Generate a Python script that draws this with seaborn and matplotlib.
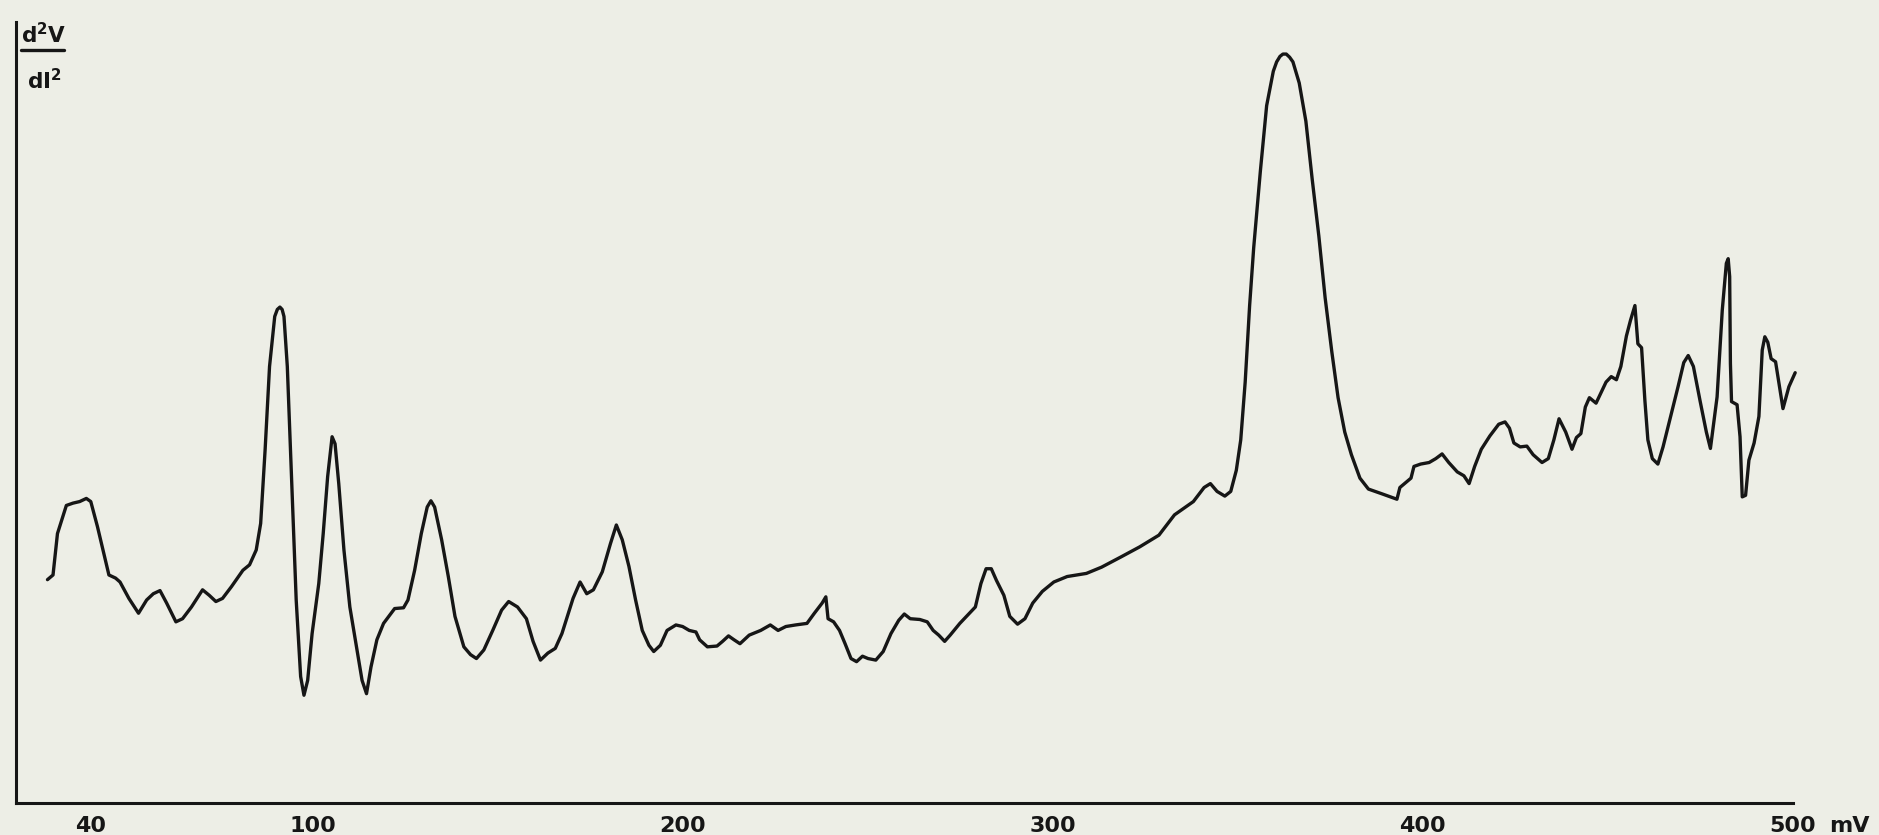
import matplotlib
matplotlib.use("Agg")
import matplotlib.pyplot as plt
from matplotlib.lines import Line2D
import numpy as np
import pandas as pd
import seaborn as sns

# Bias voltage (mV) and second-derivative signal d2V/dI2 (arbitrary units, 0-100)
bias_mv = [
    28.4, 29.9, 31.1, 33.5, 35.3, 37.1, 38.9, 40.1, 41.9, 45.0, 46.8, 48.0, 50.4, 53.0,
    55.2, 57.0, 58.8, 60.6, 63.1, 64.9, 67.3, 70.3, 72.1, 73.9, 75.7, 78.1, 81.2, 83.0,
    84.8, 86.0, 87.2, 88.4, 89.8, 90.5, 91.2, 91.8, 92.3, 93.2, 94.4, 95.6, 96.8, 97.7,
    98.7, 99.9,
    101.7, 102.9, 104.1, 105.3, 106.1, 107.1, 108.5, 110.1, 111.9, 113.4, 114.6, 115.8,
    117.4, 119.2, 122.2, 124.6, 125.8, 127.6, 129.4, 131.0, 132.0, 133.0, 134.9, 136.7,
    138.5, 140.9, 142.7, 144.3, 146.3, 148.7, 151.1, 153.0, 155.4, 157.8, 159.6, 161.6,
    163.6, 165.6, 167.4, 170.4, 172.3, 174.1, 175.9, 178.3, 180.5, 182.1, 183.7, 185.5,
    187.3, 189.1, 190.9, 192.2, 194.0, 195.8, 198.2, 200.0, 201.8, 203.6,
    204.6, 206.7, 209.3, 210.8, 212.4, 213.9, 215.5, 218.0, 221.1, 223.7, 225.8, 227.9,
    230.5, 233.6, 235.6, 237.7, 238.7, 239.3, 240.8, 242.4, 243.9, 245.5, 247.0, 248.6,
    250.1, 252.2, 254.2, 256.3, 258.4, 259.9, 261.5, 264.1, 266.1, 267.7, 269.2, 270.8,
    272.3, 274.9, 277.5, 279.1, 280.6, 282.0, 283.4, 284.8, 286.8, 288.4, 290.5, 292.5,
    294.6, 297.2, 300.3, 303.9, 309.1, 313.2, 318.4, 323.5, 328.7, 332.9, 338.0,
    340.9, 342.6, 344.4, 346.5, 348.1, 349.6, 350.8, 352.0, 353.2, 354.3, 356.1, 357.8,
    359.6, 360.5, 361.4, 362.2, 363.1, 364.0, 364.9, 366.6, 368.4, 370.1, 371.9, 373.6,
    375.4, 377.1, 378.9,
    380.7, 383.0, 385.3, 388.9, 391.2, 393.0, 393.8, 395.3, 396.8, 397.6, 399.4, 401.7,
    403.5, 405.2, 407.0, 409.3, 411.1, 412.5, 414.0, 415.8, 418.1, 420.5, 422.2, 423.4,
    424.6, 426.3, 428.1, 429.8, 432.2, 433.9, 435.4, 436.8, 438.6, 440.3, 441.5, 442.7,
    443.9, 445.0, 446.8, 448.0, 449.5, 450.9, 452.3, 453.5, 455.0, 456.1, 457.3, 458.1,
    459.1, 460.0, 460.8, 462.0, 463.5, 464.9, 466.7, 469.0, 470.5, 471.7, 473.1, 474.9,
    476.6, 477.7, 479.5, 480.9, 482.0, 482.5, 482.9, 483.1, 483.4, 484.9, 485.7, 486.3,
    487.2, 488.1, 489.5, 490.8, 491.7, 492.4, 493.2, 494.1, 495.3, 497.3, 498.9, 500.6,
]
d2v_signal = [
    28.6, 29.2, 34.5, 38.1, 38.4, 38.6, 39.0, 38.6, 35.4, 29.2, 28.8, 28.3, 26.2, 24.3,
    26.0, 26.8, 27.2, 25.6, 23.2, 23.6, 25.1, 27.3, 26.6, 25.8, 26.2, 27.7, 29.8, 30.5,
    32.4, 35.8, 45.2, 55.9, 62.3, 63.2, 63.5, 63.2, 62.3, 55.9, 40.9, 26.0, 16.2, 13.8,
    15.7, 21.7,
    28.1, 34.5, 41.8, 46.9, 46.0, 40.9, 32.4, 25.1, 20.0, 15.7, 14.0, 17.4,
    20.9, 23.0, 24.9, 25.0, 26.0, 29.8, 34.5, 37.9, 38.7, 37.9, 33.7, 29.0,
    23.9, 20.0, 19.0, 18.5, 19.6, 22.1, 24.7, 25.8, 25.1, 23.6, 20.7, 18.3,
    19.2, 19.8, 21.7, 26.2, 28.3, 26.8, 27.3, 29.6, 33.2, 35.6, 33.7, 30.3,
    26.0, 22.1, 20.2, 19.4, 20.2, 22.1, 22.8, 22.6, 22.1, 21.9,
    20.9, 20.0, 20.1, 20.7, 21.4, 20.9, 20.4, 21.5, 22.1, 22.8, 22.1, 22.6,
    22.8, 23.0, 24.3, 25.6, 26.4, 23.6, 23.2, 22.1, 20.4, 18.5, 18.1, 18.8,
    18.5, 18.3, 19.4, 21.7, 23.4, 24.2, 23.6, 23.5, 23.2, 22.1, 21.5, 20.7,
    21.5, 23.0, 24.3, 25.1, 28.1, 30.0, 30.0, 28.5, 26.6, 23.9, 22.9, 23.6,
    25.6, 27.1, 28.3, 29.0, 29.4, 30.2, 31.5, 32.8, 34.3, 36.9, 38.6,
    40.4, 40.9, 39.9, 39.3, 39.9, 42.6, 46.5, 53.9, 63.7, 71.1, 80.9, 89.3,
    93.7, 94.9, 95.6, 95.9, 95.9, 95.5, 94.9, 92.2, 87.3, 79.9, 72.6, 64.7,
    57.8, 51.9, 47.5,
    44.6, 41.6, 40.2, 39.6, 39.2, 38.9, 40.4, 41.0, 41.6, 43.1, 43.4, 43.6,
    44.1, 44.7, 43.6, 42.4, 41.9, 40.9, 43.1, 45.3, 47.0, 48.5, 48.8, 48.0,
    46.1, 45.6, 45.7, 44.6, 43.6, 44.1, 46.5, 49.2, 47.5, 45.3, 46.8, 47.3,
    50.7, 51.9, 51.2, 52.4, 53.9, 54.6, 54.2, 55.9, 59.8, 61.8, 63.7, 58.8,
    58.3, 51.5, 46.5, 44.1, 43.4, 45.6, 49.0, 53.4, 56.4, 57.3, 55.9, 51.5,
    47.5, 45.4, 52.0, 63.1, 69.1, 69.7, 67.4, 56.3, 51.4, 51.0, 46.9, 39.2,
    39.4, 43.9, 46.1, 49.5, 58.0, 59.7, 59.0, 56.9, 56.5, 50.5, 53.3, 55.1,
]
tick_values = [40, 100, 200, 300, 400, 500]
tick_labels = ["40", "100", "200", "300", "400", "500"]

PAPER = "#edeee6"
INK = "#161616"

sns.set_style("white")
plt.rcParams["font.family"] = ["DejaVu Sans"]
plt.rcParams["mathtext.default"] = "regular"

df = pd.DataFrame({"bias": bias_mv, "signal": d2v_signal})

fig = plt.figure(figsize=(18.79, 8.35), dpi=100)
fig.patch.set_facecolor(PAPER)
ax = fig.add_axes([0.00852, 0.0383, 0.9516, 0.9353])
ax.set_facecolor(PAPER)

sns.lineplot(data=df, x="bias", y="signal", sort=False, estimator=None,
             color=INK, linewidth=2.4, ax=ax)
for ln in ax.get_lines():
    ln.set_solid_joinstyle("round")
    ln.set_solid_capstyle("round")

ax.set_xlim(19.9, 503)
ax.set_ylim(0, 100)
ax.set_xlabel("")
ax.set_ylabel("")

for side in ("top", "right"):
    ax.spines[side].set_visible(False)
for side in ("left", "bottom"):
    ax.spines[side].set_linewidth(2.2)
    ax.spines[side].set_color(INK)
    ax.spines[side].set_capstyle("projecting")
ax.spines["bottom"].set_bounds(19.9, 500)

ax.set_yticks([])
ax.set_xticks(tick_values)
ax.set_xticklabels(tick_labels, fontweight="bold")
ax.tick_params(axis="x", direction="in", length=9, width=1.8, color=INK,
               pad=9, labelsize=16, labelcolor=INK)

# unit after the last tick label
ax.annotate("mV", xy=(500, 0), xycoords="data", xytext=(26, -9),
            textcoords="offset points", ha="left", va="top",
            fontsize=16, fontweight="bold", color=INK)

# y-axis label written as a fraction d2V / dI2
W, H = 1879.0, 835.0
fig.text(21 / W, 1 - 43 / H, r"d$^{2}$V", ha="left", va="baseline",
         fontsize=15.5, fontweight="bold", color=INK)
fig.add_artist(Line2D([21 / W, 64 / W], [1 - 50 / H, 1 - 50 / H],
                      transform=fig.transFigure, color=INK, linewidth=2.4))
fig.text(27 / W, 1 - 89 / H, r"dI$^{2}$", ha="left", va="baseline",
         fontsize=15.5, fontweight="bold", color=INK)

fig.savefig("out.png", dpi=100, facecolor=PAPER)
